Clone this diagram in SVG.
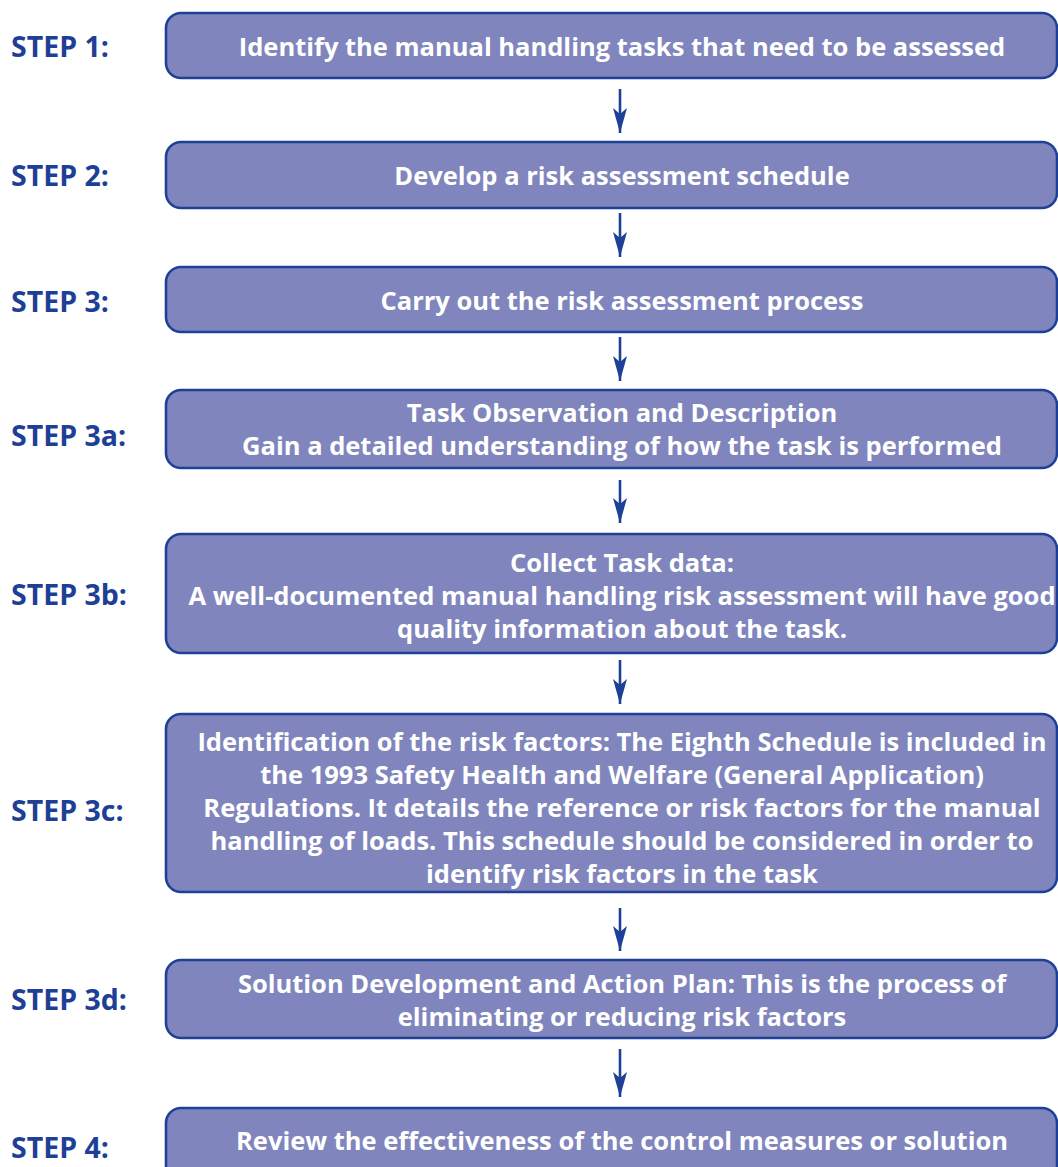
<svg xmlns="http://www.w3.org/2000/svg" width="1058" height="1167" viewBox="0 0 1058 1167">
<style>
.box{fill:#8086BD;stroke:#1E4096;stroke-width:2.6}
.t{font-family:"Open Sans","Liberation Sans",sans-serif;font-weight:bold;font-size:25.5px;fill:#FFFFFF;text-anchor:middle}
.s{font-family:"Open Sans","Liberation Sans",sans-serif;font-weight:bold;font-size:28.5px;fill:#1E3F96}
.c{stroke:#1E4096;stroke-width:2.6;fill:none;marker-end:url(#ah)}
</style>
<defs>
<marker id="ah" markerUnits="userSpaceOnUse" markerWidth="28" markerHeight="16" viewBox="-26 -8 28 16" refX="0" refY="0" orient="auto">
<path d="M0,0 L-25,-7 L-19,0 L-25,7 Z" fill="#1E4096"/>
</marker>
</defs>
<rect width="1058" height="1167" fill="#FFFFFF"/>
<g id="connectors">
<path class="c" d="M620,89 V133"/>
<path class="c" d="M620,213 V257"/>
<path class="c" d="M620,337 V381"/>
<path class="c" d="M620,480 V523"/>
<path class="c" d="M620,660 V704"/>
<path class="c" d="M620,908 V951"/>
<path class="c" d="M620,1049 V1097"/>
</g>
<g id="step1">
<text class="s" x="11" y="57">STEP 1:</text>
<rect class="box" x="166" y="13" width="891" height="65" rx="15"/>
<text class="t" x="622" y="56">Identify the manual handling tasks that need to be assessed</text>
</g>
<g id="step2">
<text class="s" x="11" y="186">STEP 2:</text>
<rect class="box" x="166" y="142" width="891" height="66" rx="15"/>
<text class="t" x="622" y="185">Develop a risk assessment schedule</text>
</g>
<g id="step3">
<text class="s" x="11" y="312">STEP 3:</text>
<rect class="box" x="166" y="267" width="891" height="65" rx="15"/>
<text class="t" x="622" y="310">Carry out the risk assessment process</text>
</g>
<g id="step3a">
<text class="s" x="11" y="446">STEP 3a:</text>
<rect class="box" x="166" y="390" width="891" height="78" rx="15"/>
<text class="t" x="622" y="422">Task Observation and Description</text>
<text class="t" x="622" y="455">Gain a detailed understanding of how the task is performed</text>
</g>
<g id="step3b">
<text class="s" x="11" y="605">STEP 3b:</text>
<rect class="box" x="166" y="534" width="891" height="119" rx="15"/>
<text class="t" x="622" y="572">Collect Task data:</text>
<text class="t" x="622" y="605">A well-documented manual handling risk assessment will have good</text>
<text class="t" x="622" y="638">quality information about the task.</text>
</g>
<g id="step3c">
<text class="s" x="11" y="821">STEP 3c:</text>
<rect class="box" x="166" y="714" width="891" height="178" rx="15"/>
<text class="t" x="622" y="751">Identification of the risk factors: The Eighth Schedule is included in</text>
<text class="t" x="622" y="784">the 1993 Safety Health and Welfare (General Application)</text>
<text class="t" x="622" y="817">Regulations. It details the reference or risk factors for the manual</text>
<text class="t" x="622" y="850">handling of loads. This schedule should be considered in order to</text>
<text class="t" x="622" y="883">identify risk factors in the task</text>
</g>
<g id="step3d">
<text class="s" x="11" y="1010">STEP 3d:</text>
<rect class="box" x="166" y="960" width="891" height="78" rx="15"/>
<text class="t" x="622" y="993">Solution Development and Action Plan: This is the process of</text>
<text class="t" x="622" y="1026">eliminating or reducing risk factors</text>
</g>
<g id="step4">
<text class="s" x="11" y="1158">STEP 4:</text>
<rect class="box" x="166" y="1108" width="891" height="80" rx="15"/>
<text class="t" x="622" y="1150">Review the effectiveness of the control measures or solution</text>
</g>
</svg>
